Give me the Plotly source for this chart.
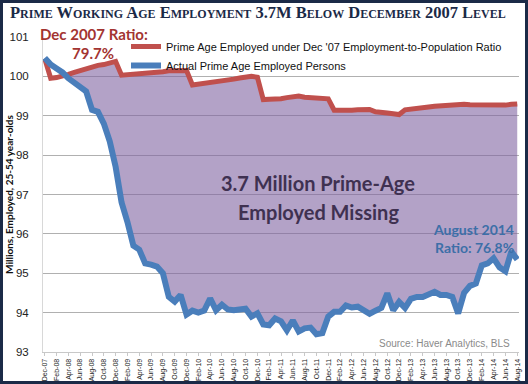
import numpy as np
import pandas as pd
import plotly.graph_objects as go

# ---- data ----
months = [d.strftime("%b-%y") for d in pd.date_range("2007-12-01", "2014-08-01", freq="MS")]

ratio_based = [
    100.45, 99.95, 99.97, 100.00, 100.05, 100.10, 100.15, 100.20, 100.25, 100.28,
    100.30, 100.33, 100.38, 100.03, 100.04, 100.05, 100.05, 100.06, 100.08, 100.10,
    100.12, 100.14, 100.15, 100.15, 100.15, 99.78, 99.80, 99.80, 99.82, 99.85,
    99.88, 99.90, 99.93, 99.96, 99.98, 100.00, 99.98, 99.41, 99.42, 99.42,
    99.43, 99.46, 99.49, 99.50, 99.47, 99.46, 99.47, 99.46, 99.43, 99.14,
    99.13, 99.13, 99.14, 99.15, 99.17, 99.16, 99.10, 99.07, 99.07, 99.05,
    99.03, 99.15, 99.16, 99.17, 99.20, 99.22, 99.24, 99.25, 99.27, 99.28,
    99.30, 99.29, 99.28, 99.28, 99.27, 99.26, 99.25, 99.28, 99.27, 99.29,
    99.30,
]

actual = [
    100.47, 100.30, 100.20, 100.10, 99.95, 99.83, 99.75, 99.62, 99.15, 99.10,
    98.80, 98.35, 97.70, 96.80, 96.30, 95.70, 95.60, 95.25, 95.22, 95.17,
    95.00, 94.40, 94.28, 94.45, 93.95, 94.05, 94.00, 94.05, 94.36, 94.06,
    94.20, 94.08, 94.06, 94.08, 94.10, 93.90, 93.98, 93.70, 93.68, 93.85,
    93.78, 93.55, 93.80, 93.52, 93.60, 93.62, 93.45, 93.48, 93.90, 94.02,
    94.02, 94.18, 94.13, 94.15, 94.08, 93.97, 94.05, 94.12, 94.49, 94.06,
    94.27, 94.12, 94.35, 94.40, 94.40, 94.45, 94.53, 94.45, 94.45, 94.40,
    93.98, 94.50, 94.68, 94.74, 95.20, 95.25, 95.38, 95.15, 95.05, 95.55,
    95.35,
]

y_ticks = [93, 94, 95, 96, 97, 98, 99, 100, 101]
x_ticks = months[::2]

# ---- figure ----
lower = np.minimum(np.array(ratio_based), np.array(actual))

fig = go.Figure()
fig.add_trace(go.Scatter(x=months, y=lower, mode="lines", line=dict(width=0),
                         showlegend=False, hoverinfo="skip"))
fig.add_trace(go.Scatter(x=months, y=ratio_based, mode="lines", line=dict(width=0),
                         fill="tonexty", fillcolor="rgba(128,100,162,0.6)",
                         showlegend=False, hoverinfo="skip"))
fig.add_trace(go.Scatter(x=months, y=ratio_based, mode="lines",
                         name="Prime Age Employed under Dec '07 Employment-to-Population Ratio",
                         line=dict(color="#C0504D", width=5)))
fig.add_trace(go.Scatter(x=months, y=actual, mode="lines",
                         name="Actual Prime Age Employed Persons",
                         line=dict(color="#4A7EBB", width=6)))

L, R, T, B = 43, 9, 37, 32
W, H = 528, 384
pw, ph = W - L - R, H - T - B

def px_x(p):
    return (p - L) / pw

def px_y(p):
    return (H - B - p) / ph

fig.update_layout(
    width=W, height=H,
    margin=dict(l=L, r=R, t=T, b=B, autoexpand=False),
    paper_bgcolor="white", plot_bgcolor="white",
    font=dict(family="Liberation Sans, Arial, sans-serif", color="#222"),
    xaxis=dict(type="category", tickmode="array", tickvals=x_ticks, ticktext=x_ticks,
               tickangle=-90, tickfont=dict(size=7, family="Liberation Sans Narrow, Liberation Sans, Arial"),
               range=[-0.3, 80.3], showgrid=False, showline=True, linecolor="#C8C8C8",
               ticks="outside", ticklen=3, tickcolor="#C8C8C8", zeroline=False),
    yaxis=dict(range=[93, 101], tickvals=y_ticks, showgrid=True, gridcolor="#B0B0B0",
               gridwidth=1, tickfont=dict(size=11.5, color="#222"), showline=True,
               linecolor="#D8D8D8", zeroline=False, ticklabelstandoff=11),
    legend=dict(x=px_x(126), y=px_y(32), xanchor="left", yanchor="top",
                bgcolor="rgba(0,0,0,0)", font=dict(size=11, color="#111"),
                tracegroupgap=0, itemwidth=30, traceorder="normal"),
    showlegend=True,
)

navy = "#1B2A47"
fig.add_shape(type="rect", xref="paper", yref="paper",
              x0=px_x(0), x1=px_x(W), y0=px_y(H), y1=px_y(0),
              line=dict(color=navy, width=6), fillcolor="rgba(0,0,0,0)", layer="above")

lato = "Lato, Open Sans, sans-serif"
anns = [
    dict(text="<b>Prime Working Age Employment 3.7M Below December 2007 Level</b>",
         x=px_x(258), y=px_y(12.5), font=dict(family="Liberation Serif, serif", size=16.5, color=navy,
                                             variant="small-caps")),
    dict(text="<b>Dec 2007 Ratio:</b>", x=px_x(94), y=px_y(33.5),
         font=dict(family=lato, size=15, color="#A33431")),
    dict(text="<b>79.7%</b>", x=px_x(93), y=px_y(53),
         font=dict(family=lato, size=15, color="#A33431")),
    dict(text="<b>3.7 Million Prime-Age</b>", x=px_x(318), y=px_y(183),
         font=dict(family=lato, size=20, color="#3F3151")),
    dict(text="<b>Employed Missing</b>", x=px_x(318), y=px_y(212),
         font=dict(family=lato, size=20, color="#3F3151")),
    dict(text="<b>August 2014</b>", x=px_x(515), y=px_y(229), xanchor="right",
         font=dict(family=lato, size=14, color="#3D6FA8")),
    dict(text="<b>Ratio: 76.8%</b>", x=px_x(515), y=px_y(247), xanchor="right",
         font=dict(family=lato, size=14, color="#3D6FA8")),
    dict(text="Source: Haver Analytics, BLS", x=px_x(511), y=px_y(343), xanchor="right",
         font=dict(family="Liberation Sans Narrow, Liberation Sans, Arial", size=10, color="#8A8A8A")),
    dict(text="<b>Millions, Employed, 25-54 year-olds</b>", x=px_x(9), y=px_y(194),
         textangle=-90, font=dict(family=lato, size=10, color="#111")),
]
for a in anns:
    a.setdefault("xanchor", "center")
    fig.add_annotation(xref="paper", yref="paper", showarrow=False, yanchor="middle",
                       borderpad=0, **a)

fig.write_html("out.html", config={"displayModeBar": False},
               post_script="document.body.style.margin='0';")
